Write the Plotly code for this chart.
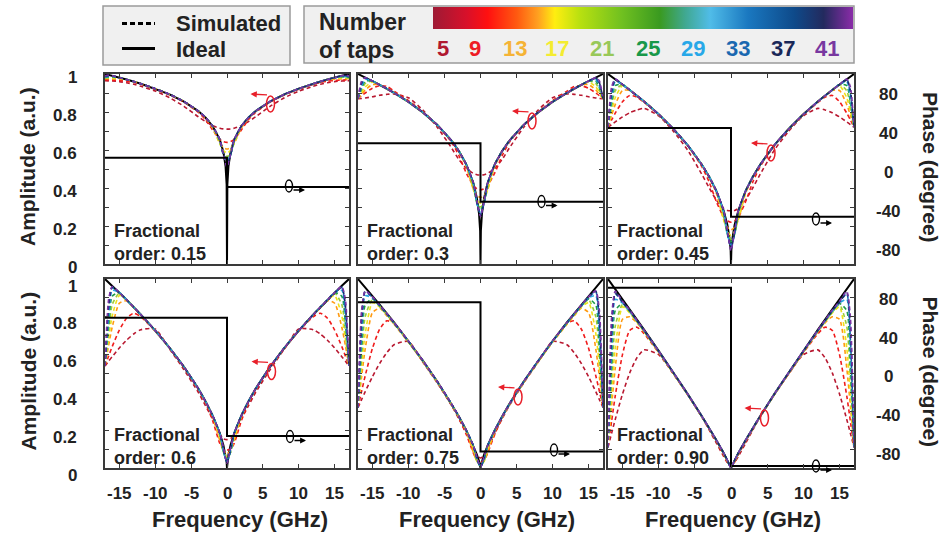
import plotly.graph_objects as go

W, H = 943, 535
def px(x): return x / W
def py(y): return 1 - y / H

FONT = "Liberation Sans, Arial, sans-serif"
TXT = "#222222"

# ---------------- data ----------------
ORDERS = ["0.15", "0.3", "0.45", "0.6", "0.75", "0.90"]
TAPS = [5, 9, 13, 17, 21, 25, 29, 33, 37, 41]
TAP_COLORS = ["#b81830", "#f01c1c", "#ff9a10", "#eee21a", "#9ccc3a",
              "#1c9a48", "#2aaae6", "#1a66b0", "#1a2a66", "#7a34a6"]
TAP_LABEL_COLORS = ["#b01830", "#ee1c24", "#f5b335", "#f4ec30", "#98c858",
                    "#18984a", "#28a8e8", "#1a68b0", "#1a2858", "#7838a0"]

# frequency grid (GHz, positive half; curves are even in frequency)
SX = [0, 0.5, 1, 2, 3, 4, 6, 8, 10, 12, 13, 14, 15, 16, 16.5, 17]
IX = [0, 0.05, 0.2, 0.5, 1, 2, 3, 4, 6, 8, 10, 12, 14, 16, 17]

IDEAL_015 = [0, 0.417, 0.514, 0.589, 0.654, 0.725, 0.771, 0.805, 0.855, 0.893, 0.923, 0.949, 0.971, 0.991, 1.0]
IDEAL_030 = [0, 0.174, 0.264, 0.347, 0.427, 0.526, 0.594, 0.648, 0.732, 0.798, 0.853, 0.901, 0.943, 0.982, 1.0]
IDEAL_045 = [0, 0.073, 0.135, 0.205, 0.279, 0.382, 0.458, 0.521, 0.626, 0.712, 0.788, 0.855, 0.916, 0.973, 1.0]
IDEAL_060 = [0, 0.030, 0.070, 0.121, 0.183, 0.277, 0.353, 0.420, 0.535, 0.636, 0.727, 0.811, 0.890, 0.964, 1.0]
IDEAL_075 = [0, 0.013, 0.036, 0.071, 0.119, 0.201, 0.272, 0.338, 0.458, 0.568, 0.672, 0.770, 0.864, 0.956, 1.0]
IDEAL_090 = [0, 0.005, 0.018, 0.042, 0.078, 0.146, 0.210, 0.272, 0.392, 0.507, 0.620, 0.731, 0.840, 0.947, 1.0]

PHASE_X = [-17, 0, 0, 17]
PHASE_LEFT = [15, 30, 45.5, 61, 77, 92]
PHASE_RIGHT = [-15, -30, -45.5, -61, -77, -92]

SIM_015 = [
    [0.71, 0.711, 0.715, 0.728, 0.75, 0.775, 0.83, 0.875, 0.91, 0.935, 0.946, 0.954, 0.96, 0.963, 0.964, 0.965],
    [0.64, 0.644, 0.656, 0.705, 0.76, 0.798, 0.852, 0.89, 0.92, 0.946, 0.956, 0.962, 0.966, 0.968, 0.969, 0.97],
    [0.605, 0.613, 0.635, 0.715, 0.768, 0.804, 0.855, 0.893, 0.923, 0.949, 0.961, 0.969, 0.973, 0.974, 0.975, 0.975],
    [0.585, 0.597, 0.634, 0.723, 0.771, 0.805, 0.855, 0.893, 0.923, 0.949, 0.961, 0.971, 0.977, 0.979, 0.978, 0.978],
    [0.565, 0.584, 0.639, 0.725, 0.771, 0.805, 0.855, 0.893, 0.923, 0.949, 0.961, 0.971, 0.981, 0.983, 0.981, 0.98],
    [0.55, 0.576, 0.650, 0.725, 0.771, 0.805, 0.855, 0.893, 0.923, 0.949, 0.961, 0.971, 0.981, 0.986, 0.984, 0.982],
    [0.54, 0.574, 0.652, 0.725, 0.771, 0.805, 0.855, 0.893, 0.923, 0.949, 0.961, 0.971, 0.981, 0.988, 0.987, 0.984],
    [0.53, 0.573, 0.653, 0.725, 0.771, 0.805, 0.855, 0.893, 0.923, 0.949, 0.961, 0.971, 0.981, 0.99, 0.99, 0.986],
    [0.52, 0.575, 0.654, 0.725, 0.771, 0.805, 0.855, 0.893, 0.923, 0.949, 0.961, 0.971, 0.981, 0.991, 0.992, 0.988],
    [0.51, 0.577, 0.654, 0.725, 0.771, 0.805, 0.855, 0.893, 0.923, 0.949, 0.961, 0.971, 0.981, 0.991, 0.994, 0.99],
]
SIM_030 = [
    [0.468, 0.47, 0.477, 0.505, 0.55, 0.61, 0.72, 0.81, 0.875, 0.895, 0.893, 0.888, 0.88, 0.874, 0.871, 0.87],
    [0.39, 0.396, 0.413, 0.481, 0.57, 0.64, 0.73, 0.80, 0.86, 0.91, 0.935, 0.938, 0.925, 0.90, 0.886, 0.87],
    [0.35, 0.361, 0.394, 0.515, 0.594, 0.648, 0.732, 0.798, 0.853, 0.901, 0.923, 0.943, 0.944, 0.916, 0.894, 0.87],
    [0.32, 0.338, 0.392, 0.526, 0.594, 0.648, 0.732, 0.798, 0.853, 0.901, 0.923, 0.943, 0.958, 0.932, 0.904, 0.87],
    [0.30, 0.326, 0.405, 0.526, 0.594, 0.648, 0.732, 0.798, 0.853, 0.901, 0.923, 0.943, 0.963, 0.95, 0.915, 0.87],
    [0.285, 0.32, 0.42, 0.526, 0.594, 0.648, 0.732, 0.798, 0.853, 0.901, 0.923, 0.943, 0.963, 0.963, 0.926, 0.87],
    [0.27, 0.317, 0.424, 0.526, 0.594, 0.648, 0.732, 0.798, 0.853, 0.901, 0.923, 0.943, 0.963, 0.972, 0.936, 0.87],
    [0.26, 0.319, 0.426, 0.526, 0.594, 0.648, 0.732, 0.798, 0.853, 0.901, 0.923, 0.943, 0.963, 0.977, 0.946, 0.87],
    [0.255, 0.326, 0.427, 0.526, 0.594, 0.648, 0.732, 0.798, 0.853, 0.901, 0.923, 0.943, 0.963, 0.98, 0.954, 0.87],
    [0.25, 0.331, 0.427, 0.526, 0.594, 0.648, 0.732, 0.798, 0.853, 0.901, 0.923, 0.943, 0.963, 0.981, 0.964, 0.87],
]
SIM_045 = [
    [0.28, 0.282, 0.292, 0.335, 0.40, 0.47, 0.60, 0.70, 0.78, 0.819, 0.811, 0.796, 0.774, 0.748, 0.734, 0.72],
    [0.22, 0.227, 0.246, 0.326, 0.43, 0.51, 0.625, 0.71, 0.785, 0.85, 0.878, 0.887, 0.854, 0.794, 0.758, 0.72],
    [0.18, 0.193, 0.23, 0.37, 0.455, 0.52, 0.626, 0.712, 0.788, 0.855, 0.886, 0.914, 0.913, 0.839, 0.783, 0.72],
    [0.15, 0.171, 0.232, 0.38, 0.458, 0.521, 0.626, 0.712, 0.788, 0.855, 0.886, 0.916, 0.939, 0.875, 0.804, 0.72],
    [0.13, 0.16, 0.25, 0.382, 0.458, 0.521, 0.626, 0.712, 0.788, 0.855, 0.886, 0.916, 0.945, 0.912, 0.829, 0.72],
    [0.115, 0.156, 0.27, 0.382, 0.458, 0.521, 0.626, 0.712, 0.788, 0.855, 0.886, 0.916, 0.945, 0.939, 0.851, 0.72],
    [0.10, 0.155, 0.274, 0.382, 0.458, 0.521, 0.626, 0.712, 0.788, 0.855, 0.886, 0.916, 0.945, 0.96, 0.875, 0.72],
    [0.09, 0.159, 0.277, 0.382, 0.458, 0.521, 0.626, 0.712, 0.788, 0.855, 0.886, 0.916, 0.945, 0.97, 0.897, 0.72],
    [0.08, 0.169, 0.278, 0.382, 0.458, 0.521, 0.626, 0.712, 0.788, 0.855, 0.886, 0.916, 0.945, 0.972, 0.914, 0.72],
    [0.07, 0.175, 0.279, 0.382, 0.458, 0.521, 0.626, 0.712, 0.788, 0.855, 0.886, 0.916, 0.945, 0.973, 0.932, 0.72],
]
SIM_060 = [
    [0.15, 0.155, 0.18, 0.26, 0.33, 0.40, 0.52, 0.63, 0.735, 0.732, 0.709, 0.676, 0.635, 0.589, 0.565, 0.54],
    [0.095, 0.10, 0.13, 0.25, 0.345, 0.415, 0.533, 0.634, 0.724, 0.80, 0.819, 0.792, 0.73, 0.642, 0.592, 0.54],
    [0.075, 0.093, 0.145, 0.27, 0.35, 0.418, 0.534, 0.635, 0.726, 0.809, 0.848, 0.885, 0.872, 0.745, 0.648, 0.54],
    [0.06, 0.085, 0.16, 0.275, 0.352, 0.419, 0.535, 0.636, 0.727, 0.811, 0.851, 0.889, 0.913, 0.804, 0.683, 0.54],
    [0.05, 0.083, 0.18, 0.277, 0.353, 0.42, 0.535, 0.636, 0.727, 0.811, 0.851, 0.89, 0.926, 0.864, 0.724, 0.54],
    [0.04, 0.084, 0.183, 0.277, 0.353, 0.42, 0.535, 0.636, 0.727, 0.811, 0.851, 0.89, 0.928, 0.909, 0.761, 0.54],
    [0.035, 0.088, 0.183, 0.277, 0.353, 0.42, 0.535, 0.636, 0.727, 0.811, 0.851, 0.89, 0.928, 0.94, 0.798, 0.54],
    [0.03, 0.095, 0.183, 0.277, 0.353, 0.42, 0.535, 0.636, 0.727, 0.811, 0.851, 0.89, 0.928, 0.954, 0.833, 0.54],
    [0.027, 0.101, 0.183, 0.277, 0.353, 0.42, 0.535, 0.636, 0.727, 0.811, 0.851, 0.89, 0.928, 0.958, 0.86, 0.54],
    [0.025, 0.108, 0.183, 0.277, 0.353, 0.42, 0.535, 0.636, 0.727, 0.811, 0.851, 0.89, 0.928, 0.96, 0.891, 0.54],
]
SIM_075 = [
    [0.053, 0.065, 0.10, 0.185, 0.26, 0.33, 0.45, 0.56, 0.67, 0.652, 0.61, 0.553, 0.483, 0.404, 0.362, 0.32],
    [0.03, 0.04, 0.08, 0.18, 0.265, 0.335, 0.456, 0.566, 0.67, 0.765, 0.779, 0.734, 0.633, 0.488, 0.406, 0.32],
    [0.02, 0.036, 0.083, 0.195, 0.268, 0.334, 0.453, 0.562, 0.665, 0.76, 0.805, 0.845, 0.822, 0.63, 0.483, 0.32],
    [0.015, 0.036, 0.10, 0.198, 0.27, 0.336, 0.455, 0.565, 0.668, 0.765, 0.81, 0.852, 0.875, 0.712, 0.533, 0.32],
    [0.012, 0.039, 0.117, 0.2, 0.271, 0.337, 0.456, 0.566, 0.669, 0.766, 0.812, 0.855, 0.89, 0.801, 0.593, 0.32],
    [0.01, 0.043, 0.118, 0.2, 0.271, 0.337, 0.456, 0.566, 0.669, 0.766, 0.813, 0.857, 0.895, 0.862, 0.645, 0.32],
    [0.008, 0.047, 0.119, 0.2, 0.271, 0.337, 0.457, 0.567, 0.67, 0.767, 0.814, 0.859, 0.9, 0.911, 0.701, 0.32],
    [0.006, 0.05, 0.119, 0.201, 0.272, 0.338, 0.457, 0.567, 0.671, 0.768, 0.815, 0.86, 0.903, 0.931, 0.752, 0.32],
    [0.005, 0.055, 0.119, 0.201, 0.272, 0.338, 0.458, 0.568, 0.671, 0.769, 0.816, 0.861, 0.905, 0.935, 0.791, 0.32],
    [0.004, 0.06, 0.119, 0.201, 0.272, 0.338, 0.458, 0.568, 0.672, 0.77, 0.817, 0.862, 0.907, 0.937, 0.834, 0.32],
]
SIM_090 = [
    [0.02, 0.03, 0.06, 0.13, 0.2, 0.27, 0.39, 0.5, 0.6, 0.625, 0.583, 0.503, 0.391, 0.257, 0.184, 0.11],
    [0.01, 0.03, 0.07, 0.14, 0.205, 0.268, 0.388, 0.5, 0.61, 0.71, 0.745, 0.728, 0.60, 0.381, 0.248, 0.11],
    [0.006, 0.035, 0.073, 0.143, 0.207, 0.269, 0.388, 0.502, 0.612, 0.72, 0.768, 0.80, 0.787, 0.529, 0.33, 0.11],
    [0.005, 0.037, 0.075, 0.144, 0.208, 0.27, 0.389, 0.503, 0.614, 0.722, 0.772, 0.82, 0.853, 0.635, 0.395, 0.11],
    [0.004, 0.038, 0.076, 0.145, 0.209, 0.271, 0.39, 0.504, 0.615, 0.724, 0.775, 0.825, 0.865, 0.75, 0.473, 0.11],
    [0.003, 0.039, 0.077, 0.145, 0.209, 0.271, 0.39, 0.505, 0.616, 0.725, 0.777, 0.828, 0.87, 0.833, 0.543, 0.11],
    [0.002, 0.04, 0.077, 0.145, 0.209, 0.271, 0.391, 0.505, 0.617, 0.726, 0.778, 0.83, 0.873, 0.892, 0.614, 0.11],
    [0.002, 0.04, 0.078, 0.146, 0.21, 0.272, 0.391, 0.506, 0.618, 0.727, 0.779, 0.832, 0.876, 0.922, 0.684, 0.11],
    [0.001, 0.041, 0.078, 0.146, 0.21, 0.272, 0.391, 0.506, 0.618, 0.728, 0.78, 0.834, 0.879, 0.925, 0.736, 0.11],
    [0.0, 0.041, 0.078, 0.146, 0.21, 0.272, 0.392, 0.507, 0.619, 0.729, 0.782, 0.836, 0.882, 0.935, 0.798, 0.11],
]

IDEALS = [IDEAL_015, IDEAL_030, IDEAL_045, IDEAL_060, IDEAL_075, IDEAL_090]
SIMS = [SIM_015, SIM_030, SIM_045, SIM_060, SIM_075, SIM_090]

X_TICKS = [-15, -10, -5, 0, 5, 10, 15]
AMP_TICKS = [0, 0.2, 0.4, 0.6, 0.8, 1]
AMP_LABELS = ["0", "0.2", "0.4", "0.6", "0.8", "1"]
PHASE_TICKS = [80, 40, 0, -40, -80]

# ---------------- layout geometry (pixels) ----------------
COLS = [(105, 349), (358, 603), (608, 854)]
ROWS = [(74, 264), (279, 468)]
PHASE_RANGE = [-94, 101]


def mirror_x(xs):
    return [-v for v in xs[::-1]] + list(xs[1:])


def mirror_y(ys):
    return list(ys[::-1]) + list(ys[1:])


fig = go.Figure()
layout = dict(
    width=W, height=H, autosize=False,
    margin=dict(l=0, r=0, t=0, b=0),
    paper_bgcolor="white", plot_bgcolor="white",
    showlegend=False,
    font=dict(family=FONT, color=TXT),
)
annotations = []
shapes = []

for i in range(6):
    r, c = divmod(i, 3)
    x0, x1 = COLS[c]
    y0, y1 = ROWS[r]
    n = i + 1
    xa = "x" if n == 1 else f"x{n}"
    ya = "y" if n == 1 else f"y{n}"
    yp = f"y{n + 6}"
    axis_common = dict(showgrid=False, zeroline=False, showline=True,
                       linecolor="#3a3a3a", linewidth=2, mirror="ticks",
                       ticks="inside", ticklen=4, tickwidth=1.2,
                       tickcolor="#3a3a3a", showticklabels=False)
    layout["xaxis" if n == 1 else f"xaxis{n}"] = dict(
        domain=[px(x0), px(x1)], anchor=ya, range=[-17, 17],
        tickvals=X_TICKS, **axis_common)
    layout["yaxis" if n == 1 else f"yaxis{n}"] = dict(
        domain=[py(y1), py(y0)], anchor=xa, range=[0, 1],
        tickvals=[k / 10 for k in range(11)], **axis_common)
    layout[f"yaxis{n + 6}"] = dict(
        overlaying=ya, anchor=xa, side="right", range=PHASE_RANGE,
        visible=False, showgrid=False, zeroline=False)

    # ideal amplitude (drawn first, dashed simulations on top)
    fig.add_trace(go.Scatter(
        x=mirror_x(IX), y=mirror_y(IDEALS[i]), xaxis=xa, yaxis=ya,
        mode="lines", hoverinfo="skip",
        line=dict(color="black", width=2)))
    # simulated curves
    for k, vals in enumerate(SIMS[i]):
        fig.add_trace(go.Scatter(
            x=mirror_x(SX), y=mirror_y(vals), xaxis=xa, yaxis=ya,
            mode="lines", hoverinfo="skip",
            line=dict(color=TAP_COLORS[k], width=1.6, dash="4px,3px",
                      shape="spline", smoothing=0.6)))
    # ideal phase
    fig.add_trace(go.Scatter(
        x=PHASE_X, y=[PHASE_LEFT[i], PHASE_LEFT[i], PHASE_RIGHT[i], PHASE_RIGHT[i]],
        xaxis=xa, yaxis=yp, mode="lines", hoverinfo="skip",
        line=dict(color="black", width=2)))

    # panel label
    annotations.append(dict(
        xref="paper", yref="paper", x=px(x0 + 7), y=py(y1 - 22),
        xanchor="left", yanchor="middle", align="left", showarrow=False,
        text=f"<b>Fractional<br>order: {ORDERS[i]}</b>",
        font=dict(size=18, color=TXT, family=FONT)))

    # left amplitude labels
    if c == 0:
        for v, t in zip(AMP_TICKS, AMP_LABELS):
            annotations.append(dict(
                xref="paper", yref=ya, x=px(79), y=v, xanchor="right",
                yanchor="middle", showarrow=False, yshift=-3 if r == 0 else -7,
                text=f"<b>{t}</b>", font=dict(size=17, color=TXT, family=FONT)))
        annotations.append(dict(
            xref="paper", yref="paper", x=px(28), y=py((y0 + y1) / 2 - 2),
            textangle=-90, showarrow=False, xanchor="center", yanchor="middle",
            text="<b>Amplitude (a.u.)</b>", font=dict(size=21, color=TXT, family=FONT)))
    # right phase labels
    if c == 2:
        for v in PHASE_TICKS:
            annotations.append(dict(
                xref="paper", yref=yp, x=px(888), y=v, xanchor="center",
                yanchor="middle", showarrow=False,
                text=f"<b>{v}</b>", font=dict(size=17, color=TXT, family=FONT)))
        annotations.append(dict(
            xref="paper", yref="paper", x=px(930), y=py((y0 + y1) / 2 - 2),
            textangle=90, showarrow=False, xanchor="center", yanchor="middle",
            text="<b>Phase (degree)</b>", font=dict(size=21, color=TXT, family=FONT)))
    # bottom x labels
    if r == 1:
        for t in X_TICKS:
            annotations.append(dict(
                xref=xa, yref="paper", x=t, y=py(493), xanchor="center",
                yanchor="middle", showarrow=False,
                text=f"<b>{t}</b>", font=dict(size=17, color=TXT, family=FONT)))
        annotations.append(dict(
            xref="paper", yref="paper", x=px([240, 487, 733][c]), y=py(519),
            xanchor="center", yanchor="middle", showarrow=False,
            text="<b>Frequency (GHz)</b>", font=dict(size=22, color=TXT, family=FONT)))

# axis indicators (ellipse + arrow), pixel positions
RED_MARK = [(270.5, 104), (532, 121), (771, 153), (271.5, 371.5), (518, 397), (764.5, 418)]
BLACK_MARK = [(289, 186), (541.5, 201.5), (816, 219), (290, 436.5), (554, 450), (816, 466)]
for (rx, ry), (bx, by) in zip(RED_MARK, BLACK_MARK):
    shapes.append(dict(type="circle", xref="paper", yref="paper",
                       x0=px(rx - 4), x1=px(rx + 4), y0=py(ry + 8), y1=py(ry - 8),
                       line=dict(color="#e8202a", width=1.5)))
    annotations.append(dict(xref="paper", yref="paper", x=px(rx - 20), y=py(ry - 10),
                            ax=18, ay=1, showarrow=True, arrowhead=2, arrowsize=0.9,
                            arrowwidth=1.4, arrowcolor="#e8202a", text=""))
    shapes.append(dict(type="circle", xref="paper", yref="paper",
                       x0=px(bx - 3.5), x1=px(bx + 3.5), y0=py(by + 6), y1=py(by - 6),
                       line=dict(color="black", width=1.4)))
    annotations.append(dict(xref="paper", yref="paper", x=px(bx + 16), y=py(by + 4),
                            ax=-13, ay=0, showarrow=True, arrowhead=2, arrowsize=0.9,
                            arrowwidth=1.3, arrowcolor="black", text=""))

# legend box 1
shapes.append(dict(type="rect", xref="paper", yref="paper", layer="below",
                   x0=px(103), x1=px(290), y0=py(65), y1=py(6),
                   fillcolor="#f0f0f0", line=dict(color="#9a9a9a", width=1.5)))
shapes.append(dict(type="line", xref="paper", yref="paper",
                   x0=px(122), x1=px(155), y0=py(23.5), y1=py(23.5),
                   line=dict(color="black", width=3, dash="5px,3px")))
shapes.append(dict(type="line", xref="paper", yref="paper",
                   x0=px(122), x1=px(155), y0=py(48.5), y1=py(48.5),
                   line=dict(color="black", width=3)))
annotations.append(dict(xref="paper", yref="paper", x=px(174), y=py(23.5),
                        xanchor="left", yanchor="middle", showarrow=False,
                        text="<b>Simulated</b>", font=dict(size=22, color=TXT, family=FONT)))
annotations.append(dict(xref="paper", yref="paper", x=px(174), y=py(49.5),
                        xanchor="left", yanchor="middle", showarrow=False,
                        text="<b>Ideal</b>", font=dict(size=22, color=TXT, family=FONT)))

# legend box 2 (number of taps)
shapes.append(dict(type="rect", xref="paper", yref="paper", layer="below",
                   x0=px(304), x1=px(854), y0=py(63), y1=py(6),
                   fillcolor="#f0f0f0", line=dict(color="#9a9a9a", width=1.5)))
annotations.append(dict(xref="paper", yref="paper", x=px(317), y=py(21.5),
                        xanchor="left", yanchor="middle", showarrow=False,
                        text="<b>Number</b>", font=dict(size=23, color=TXT, family=FONT)))
annotations.append(dict(xref="paper", yref="paper", x=px(317), y=py(49.5),
                        xanchor="left", yanchor="middle", showarrow=False,
                        text="<b>of taps</b>", font=dict(size=23, color=TXT, family=FONT)))
TAP_LABEL_X = [443, 475, 515, 557, 602, 648, 693, 738, 783, 827]
for t, col, lx in zip(TAPS, TAP_LABEL_COLORS, TAP_LABEL_X):
    annotations.append(dict(xref="paper", yref="paper", x=px(lx), y=py(48.5),
                            xanchor="center", yanchor="middle", showarrow=False,
                            text=f"<b>{t}</b>", font=dict(size=22, color=col, family=FONT)))

CB_SCALE = [[0.0, "#9e1a35"], [0.08, "#d8102a"], [0.13, "#ff1010"], [0.2, "#ff5a10"],
            [0.25, "#ffa020"], [0.29, "#ffee10"], [0.35, "#b8e010"], [0.45, "#70c020"],
            [0.54, "#3a9a20"], [0.6, "#40a890"], [0.66, "#50bce8"], [0.75, "#1a78c0"],
            [0.86, "#0e4a8a"], [0.93, "#232a5e"], [1.0, "#8a2ca8"]]
fig.add_trace(go.Scatter(
    x=[None], y=[None], xaxis="x", yaxis="y", mode="markers", hoverinfo="skip",
    marker=dict(color=[0], cmin=0, cmax=1, colorscale=CB_SCALE, showscale=True,
                colorbar=dict(orientation="h", xref="paper", yref="paper",
                              x=px(433), xanchor="left", y=py(7), yanchor="top",
                              len=420, lenmode="pixels", thickness=22,
                              thicknessmode="pixels", outlinewidth=0,
                              showticklabels=False, ticks="", xpad=0, ypad=0))))

layout["annotations"] = annotations
layout["shapes"] = shapes
fig.update_layout(**layout)
fig.write_html("out.html")
